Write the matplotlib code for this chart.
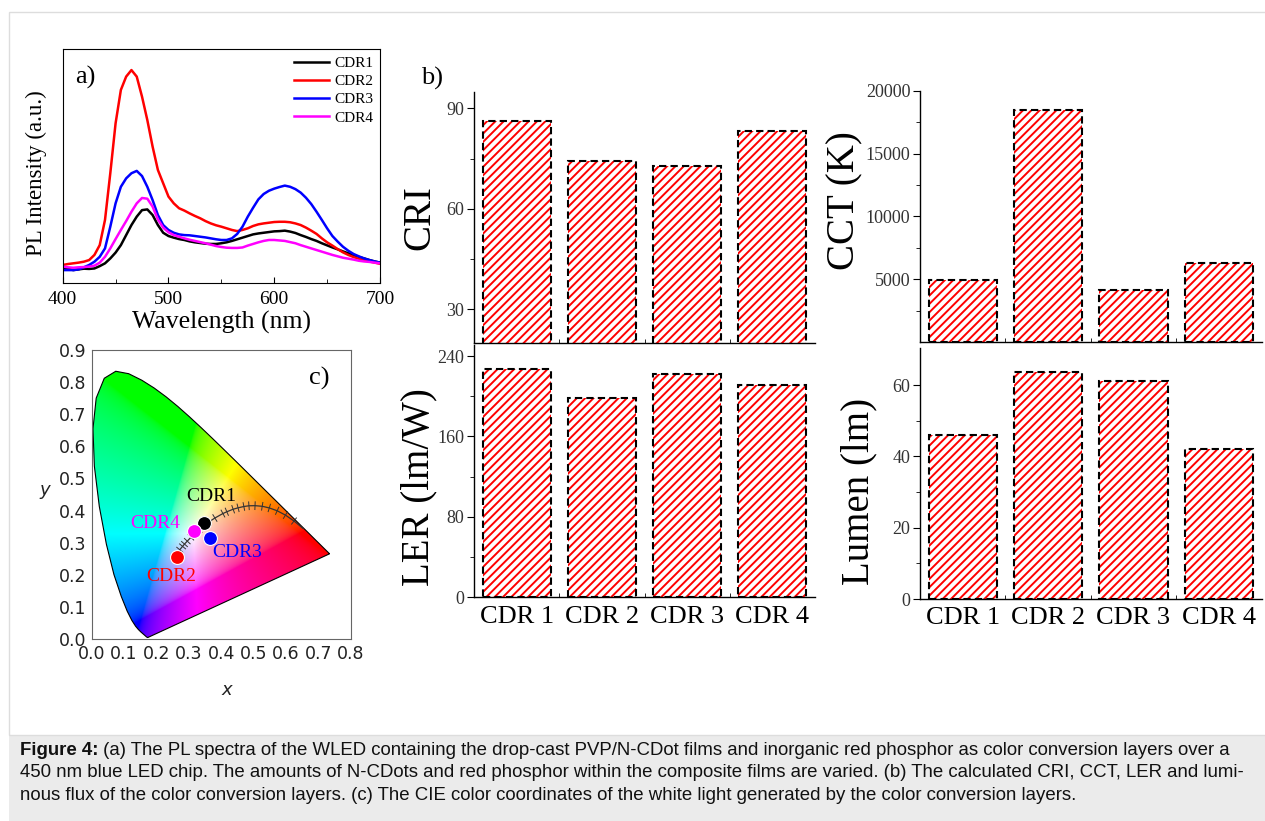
import numpy as np
import matplotlib.pyplot as plt
from matplotlib.patches import Polygon, Rectangle

plt.rcParams['font.family'] = ['Liberation Serif', 'DejaVu Serif']
plt.rcParams['hatch.linewidth'] = 1.4

W, H = 1265, 821


def box(l, t, r, b):
    # pixel box -> figure fraction [left, bottom, width, height]
    return [l / W, 1 - b / H, (r - l) / W, (b - t) / H]


def fx(px):
    return px / W


def fy(py):
    return 1 - py / H


# ---------------- data ----------------
# (a) PL spectra, 400-700 nm in 5 nm steps
wavelength = np.arange(400, 701, 5)
pl_cdr1 = [6.6, 6.0, 5.4, 5.7, 6.0, 5.9, 6.1, 7.1, 8.3, 10.4,
           12.9, 16.1, 20.4, 24.7, 28.3, 31.1, 31.4, 29.0, 24.7, 21.4,
           20.0, 19.3, 18.7, 18.3, 17.7, 17.3, 17.0, 16.7, 16.6, 16.6,
           16.9, 17.3, 17.9, 18.6, 19.3, 20.0, 20.7, 21.1, 21.4, 21.7,
           22.0, 22.1, 22.3, 21.9, 21.3, 20.4, 19.6, 18.7, 17.9, 16.9,
           16.0, 15.1, 14.3, 13.4, 12.6, 11.7, 11.0, 10.4, 9.7, 9.1, 8.6]
pl_cdr2 = [7.6, 8.0, 8.3, 8.6, 9.0, 9.7, 11.9, 16.1, 26.9, 46.9,
           68.3, 82.6, 88.3, 91.1, 88.3, 79.7, 69.7, 58.3, 48.3, 42.6,
           36.9, 34.0, 31.9, 30.9, 29.7, 28.6, 27.6, 26.4, 25.4, 24.6,
           24.0, 23.3, 22.6, 22.1, 22.6, 23.3, 24.3, 25.0, 25.4, 25.7,
           26.0, 26.1, 26.1, 25.9, 25.4, 24.7, 23.6, 22.3, 20.9, 19.0,
           17.3, 15.9, 14.4, 13.0, 11.9, 11.0, 10.3, 9.7, 9.1, 8.6, 8.1]
pl_cdr3 = [5.4, 5.4, 5.4, 5.7, 6.6, 7.6, 9.0, 11.1, 14.7, 24.0,
           34.0, 41.1, 44.7, 46.9, 47.9, 45.7, 41.1, 35.4, 29.0, 24.7,
           22.6, 21.4, 20.7, 20.4, 20.3, 20.0, 19.7, 19.4, 19.0, 18.6,
           18.3, 18.3, 19.0, 20.9, 24.0, 28.3, 32.1, 35.7, 38.0, 39.4,
           40.3, 41.0, 41.6, 41.1, 40.1, 38.6, 36.4, 33.7, 30.4, 26.9,
           23.3, 20.0, 17.6, 15.4, 13.7, 12.3, 11.3, 10.4, 9.7, 9.1, 8.6]
pl_cdr4 = [6.9, 6.6, 6.4, 6.6, 6.7, 6.9, 7.3, 8.6, 11.1, 14.7,
           18.7, 22.6, 26.4, 30.4, 34.0, 36.3, 36.0, 32.6, 27.1, 23.6,
           21.6, 20.4, 19.7, 19.0, 18.4, 17.9, 17.4, 16.9, 16.3, 15.7,
           15.3, 15.0, 14.9, 14.9, 15.1, 15.9, 16.6, 17.3, 17.9, 18.3,
           18.3, 18.1, 17.9, 17.4, 16.9, 16.1, 15.4, 14.7, 14.0, 13.3,
           12.6, 11.9, 11.3, 10.7, 10.3, 9.9, 9.4, 9.1, 8.9, 8.6, 8.3]
spec_names = ['CDR1', 'CDR2', 'CDR3', 'CDR4']
spec_colors = ['black', 'red', 'blue', 'magenta']

# (b) bar charts
bar_labels = ['CDR 1', 'CDR 2', 'CDR 3', 'CDR 4']
cri = [86.2, 74.2, 72.9, 83.2]
cct = [4940, 18490, 4120, 6295]
ler = [227, 198, 222, 211]
lumen = [46.0, 63.6, 61.2, 42.0]

# (c) CIE 1931 spectral locus (380-700 nm)
locus_x = [0.1741, 0.1740, 0.1738, 0.1736, 0.1733, 0.1730, 0.1726, 0.1721,
           0.1714, 0.1703, 0.1689, 0.1669, 0.1644, 0.1611, 0.1566, 0.1510,
           0.1440, 0.1355, 0.1241, 0.1096, 0.0913, 0.0687, 0.0454, 0.0235,
           0.0082, 0.0039, 0.0139, 0.0389, 0.0743, 0.1142, 0.1547, 0.1929,
           0.2296, 0.2658, 0.3016, 0.3373, 0.3731, 0.4087, 0.4441, 0.4788,
           0.5125, 0.5448, 0.5752, 0.6029, 0.6270, 0.6482, 0.6658, 0.6801,
           0.6915, 0.7006, 0.7079, 0.7140, 0.7190, 0.7230, 0.7260, 0.7283,
           0.7300, 0.7311, 0.7320, 0.7334, 0.7344, 0.7347]
locus_y = [0.0050, 0.0050, 0.0049, 0.0049, 0.0048, 0.0048, 0.0048, 0.0048,
           0.0051, 0.0058, 0.0069, 0.0086, 0.0109, 0.0138, 0.0177, 0.0227,
           0.0297, 0.0399, 0.0578, 0.0868, 0.1327, 0.2007, 0.2950, 0.4127,
           0.5384, 0.6548, 0.7502, 0.8120, 0.8338, 0.8262, 0.8059, 0.7816,
           0.7543, 0.7243, 0.6923, 0.6589, 0.6245, 0.5896, 0.5547, 0.5202,
           0.4866, 0.4544, 0.4242, 0.3965, 0.3725, 0.3514, 0.3340, 0.3197,
           0.3083, 0.2993, 0.2920, 0.2859, 0.2809, 0.2770, 0.2740, 0.2717,
           0.2700, 0.2689, 0.2680, 0.2666, 0.2656, 0.2653]
# Planckian locus, 1000 K ... 12000 K
planck_x = [0.6527, 0.6249, 0.5985, 0.5729, 0.5486, 0.5267, 0.5045, 0.4857,
            0.4700, 0.4521, 0.4369, 0.4174, 0.4053, 0.3805, 0.3608, 0.3451,
            0.3325, 0.3221, 0.3135, 0.3064, 0.2952, 0.2866, 0.2807, 0.2719]
planck_y = [0.3445, 0.3674, 0.3858, 0.3993, 0.4082, 0.4133, 0.4152, 0.4149,
            0.4126, 0.4085, 0.4041, 0.3963, 0.3907, 0.3768, 0.3636, 0.3516,
            0.3411, 0.3318, 0.3237, 0.3166, 0.3048, 0.2956, 0.2884, 0.2779]
cie_x = [0.348, 0.263, 0.364, 0.316]
cie_y = [0.361, 0.255, 0.314, 0.337]
cie_names = ['CDR1', 'CDR2', 'CDR3', 'CDR4']
cie_colors = ['black', 'red', 'blue', 'magenta']

fig = plt.figure(figsize=(12.65, 8.21), dpi=100)

# page frame + caption background
fig.patches.append(Rectangle((fx(9), fy(821)), 1, (821 - 735) / H,
                             transform=fig.transFigure, facecolor='#ebebeb',
                             edgecolor='none', zorder=-5))
fig.patches.append(Rectangle((fx(9), fy(735)), 1, (735 - 12) / H,
                             transform=fig.transFigure, fill=False,
                             edgecolor='#dddddd', lw=1, zorder=-5))

# ---------------- (a) ----------------
axa = fig.add_axes(box(62.7, 49.3, 380, 282.7))
for yv, nm, c in zip([pl_cdr1, pl_cdr2, pl_cdr3, pl_cdr4], spec_names, spec_colors):
    axa.plot(wavelength, yv, color=c, lw=1.8, label=nm)
axa.set_xlim(400, 700)
axa.set_ylim(0, 100)
axa.set_xticks([400, 500, 600, 700])
axa.set_xticks([450, 550, 650], minor=True)
axa.tick_params(axis='x', which='both', direction='in', labelsize=14, pad=6)
axa.tick_params(axis='x', which='major', length=4)
axa.tick_params(axis='x', which='minor', length=3)
axa.tick_params(axis='y', left=False, labelleft=False)
axa.set_xlabel('Wavelength (nm)', fontsize=18.5, labelpad=2)
axa.set_ylabel('PL Intensity (a.u.)', fontsize=16.5)
axa.yaxis.set_label_coords(-0.048, 0.47)
axa.text(0.07, 0.88, 'a)', transform=axa.transAxes, fontsize=19,
         ha='center', va='center')
axa.legend(loc='upper right', frameon=False, fontsize=11, handlelength=2.3,
           handletextpad=0.35, labelspacing=0.3, borderaxespad=0.25,
           borderpad=0.2)

# ---------------- (c) ----------------
axc = fig.add_axes(box(91.7, 350, 350.7, 639))
gx = np.linspace(0.0005, 0.8, 420)
gy = np.linspace(0.0005, 0.9, 460)
GX, GY = np.meshgrid(gx, gy)
X = GX / GY
Z = (1 - GX - GY) / GY
M = np.array([[3.2406, -1.5372, -0.4986],
              [-0.9689, 1.8758, 0.0415],
              [0.0557, -0.2040, 1.0570]])
rgb = np.stack([M[i, 0] * X + M[i, 1] + M[i, 2] * Z for i in range(3)], axis=-1)
rgb = np.clip(rgb, 0, None)
rgb = rgb / np.maximum(rgb.max(axis=-1, keepdims=True), 1e-9)
rgb = np.where(rgb <= 0.0031308, 12.92 * rgb, 1.055 * rgb ** (1 / 2.4) - 0.055)
img = axc.imshow(rgb, origin='lower', extent=[0, 0.8, 0, 0.9], aspect='auto',
                 interpolation='bilinear', zorder=1)
horseshoe = Polygon(np.column_stack([locus_x, locus_y]), closed=True,
                    facecolor='none', edgecolor='black', lw=0.8, zorder=2)
axc.add_patch(horseshoe)
img.set_clip_path(horseshoe)

# Planckian locus with isotherm ticks
px_ = np.array(planck_x)
py_ = np.array(planck_y)
axc.plot(px_, py_, color='#333333', lw=0.9, zorder=3)
dx = np.gradient(px_)
dy = np.gradient(py_)
nrm = np.hypot(dx, dy)
for i in range(1, len(px_)):
    nx, ny = -dy[i] / nrm[i], dx[i] / nrm[i]
    L = 0.012
    axc.plot([px_[i] - L * nx, px_[i] + L * nx], [py_[i] - L * ny, py_[i] + L * ny],
             color='#333333', lw=0.7, zorder=3)

label_offsets = [(5, 19), (-4, -14), (20, -10), (-28, 5)]
for x, y, nm, c, off in zip(cie_x, cie_y, cie_names, cie_colors, label_offsets):
    axc.plot(x, y, 'o', color=c, ms=10, mec='white', mew=0.8, zorder=5)
    axc.annotate(nm, (x, y), xytext=off, textcoords='offset points',
                 ha='center', va='center', color=c, fontsize=14, zorder=6)

axc.set_xlim(0, 0.8)
axc.set_ylim(0, 0.9)
axc.set_xticks(np.arange(0, 0.81, 0.1))
axc.set_yticks(np.arange(0, 0.91, 0.1))
axc.set_xticklabels([f'{v:.1f}' for v in np.arange(0, 0.81, 0.1)])
axc.set_yticklabels([f'{v:.1f}' for v in np.arange(0, 0.91, 0.1)])
axc.tick_params(length=0, labelsize=12.5, labelcolor='#222222', pad=4)
for lab in axc.get_xticklabels() + axc.get_yticklabels():
    lab.set_family('DejaVu Sans')
for s in axc.spines.values():
    s.set_color('#666666')
    s.set_linewidth(0.8)
axc.text(0.88, 0.9, 'c)', transform=axc.transAxes, fontsize=19,
         ha='center', va='center')
fig.text(fx(226.7), fy(690), 'x', family='DejaVu Sans', style='italic',
         fontsize=13, ha='center', va='center', color='#222222')
fig.text(fx(45), fy(490), 'y', family='DejaVu Sans', style='italic',
         fontsize=13, ha='center', va='center', color='#222222')

# ---------------- (b) ----------------
pos = np.arange(1, 5)


def bar_panel(rect, vals, ylim, major, minor, ylabel, lab_xy, show_x):
    ax = fig.add_axes(rect)
    ax.bar(pos, vals, width=0.8, color='white', edgecolor='red', hatch='////',
           lw=0, zorder=2)
    ax.bar(pos, vals, width=0.8, fill=False, edgecolor='black', ls=(0, (3.5, 2)),
           lw=1.5, zorder=3)
    ax.set_xlim(0.5, 4.5)
    ax.set_ylim(*ylim)
    ax.set_yticks(major)
    ax.set_yticks(minor, minor=True)
    ax.set_xticks(pos)
    ax.set_xticks([1.5, 2.5, 3.5], minor=True)
    if show_x:
        ax.set_xticklabels(bar_labels, fontsize=19)
    else:
        ax.set_xticklabels([])
    ax.tick_params(axis='x', which='both', direction='in', pad=6)
    ax.tick_params(axis='x', which='major', length=4)
    ax.tick_params(axis='x', which='minor', length=3)
    ax.tick_params(axis='y', which='both', direction='out', labelsize=13,
                   labelcolor='#333333', pad=2)
    ax.tick_params(axis='y', which='major', length=5)
    ax.tick_params(axis='y', which='minor', length=3)
    for s in ['top', 'right']:
        ax.spines[s].set_visible(False)
    for s in ['left', 'bottom']:
        ax.spines[s].set_linewidth(1.0)
    fig.text(fx(lab_xy[0]), fy(lab_xy[1]), ylabel, rotation=90, fontsize=28,
             ha='center', va='center')
    return ax


axcri = bar_panel(box(474, 91.7, 815, 342.7), cri, (20, 95), [30, 60, 90],
                  [45, 75], 'CRI', (420, 218), False)
axcct = bar_panel(box(920, 90.7, 1261.5, 342), cct, (0, 20000),
                  [5000, 10000, 15000, 20000], [2500, 7500, 12500, 17500],
                  'CCT (K)', (845, 201), False)
axler = bar_panel(box(474, 345, 815, 597.3), ler, (0, 251), [0, 80, 160, 240],
                  [40, 120, 200], 'LER (lm/W)', (419, 487), True)
axlum = bar_panel(box(920, 348.3, 1261.5, 599), lumen, (0, 70.3), [0, 20, 40, 60],
                  [10, 30, 50], 'Lumen (lm)', (859, 491), True)
fig.text(fx(431.7), fy(78), 'b)', fontsize=19, ha='center', va='center')

# ---------------- caption ----------------
cap_lines = [
    ' (a) The PL spectra of the WLED containing the drop-cast PVP/N-CDot films and inorganic red phosphor as color conversion layers over a',
    '450 nm blue LED chip. The amounts of N-CDots and red phosphor within the composite films are varied. (b) The calculated CRI, CCT, LER and lumi-',
    'nous flux of the color conversion layers. (c) The CIE color coordinates of the white light generated by the color conversion layers.',
]
cap_y = [750, 772.7, 795.3]
cap_size = 13.4
t0 = fig.text(fx(20), fy(cap_y[0]), 'Figure 4:', family='Liberation Sans',
              weight='bold', fontsize=cap_size, va='center', ha='left', color='#111111')
renderer = fig.canvas.get_renderer()
bw = t0.get_window_extent(renderer).width
fig.text(fx(20 + bw), fy(cap_y[0]), cap_lines[0], family='Liberation Sans',
         fontsize=cap_size, va='center', ha='left', color='#111111')
for line, yy in zip(cap_lines[1:], cap_y[1:]):
    fig.text(fx(20), fy(yy), line, family='Liberation Sans', fontsize=cap_size,
             va='center', ha='left', color='#111111')

fig.savefig('out.png', dpi=100)
